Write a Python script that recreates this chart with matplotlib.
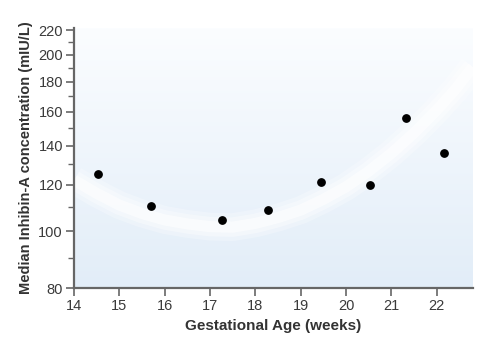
import numpy as np
import matplotlib
matplotlib.use("Agg")
import matplotlib.pyplot as plt
from matplotlib.ticker import FixedLocator, NullFormatter

# median inhibin-A by gestational week
weeks = [14.53, 15.70, 17.27, 18.28, 19.46, 20.54, 21.33, 22.17]
median_inhibin = [125, 110.6, 104.5, 108.7, 121.4, 120, 156, 135.8]

# white trend band
curve_weeks = [14.0, 14.5, 15.0, 15.5, 16.0, 16.5, 17.0, 17.5, 18.0, 18.5, 19.0,
               19.5, 20.0, 20.5, 21.0, 21.5, 22.0, 22.4, 22.8]
curve_values = [122.2, 116.0, 110.8, 107.2, 104.5, 102.9, 101.8, 101.6, 103.1, 105.5, 108.6,
                113.3, 119.0, 126.5, 135.7, 147.0, 160.8, 174.0, 190.6]

x_ticks = [14, 15, 16, 17, 18, 19, 20, 21, 22]
y_ticks = [80, 100, 120, 140, 160, 180, 200, 220]
y_minor = [90, 110, 130, 150, 170, 190, 210]

plt.rcParams['font.family'] = ['Liberation Sans Narrow', 'Liberation Sans', 'DejaVu Sans']

fig = plt.figure(figsize=(4.81, 3.47), dpi=100)
ax = fig.add_axes([0.154, 0.170, 0.829, 0.749])

# very pale blue background, almost white at the top
grad = np.linspace(0, 1, 256).reshape(-1, 1)
ax.imshow(grad, extent=[0, 1, 0, 1], transform=ax.transAxes, aspect='auto',
          cmap=matplotlib.colors.LinearSegmentedColormap.from_list('bg', ['#e2edf8', '#fbfdff']),
          origin='lower', zorder=0)

# soft white band
for lw, a in [(20, 0.25), (14, 0.35), (8, 0.55)]:
    ax.plot(curve_weeks, curve_values, color='white', lw=lw, alpha=a,
            solid_capstyle='butt', zorder=1)
ax.scatter(weeks, median_inhibin, s=28, color='black', zorder=3)

ax.set_yscale('log')
ax.set_xlim(14, 22.8)
ax.set_ylim(80, 222)
ax.yaxis.set_major_locator(FixedLocator(y_ticks))
ax.yaxis.set_minor_locator(FixedLocator(y_minor))
ax.yaxis.set_minor_formatter(NullFormatter())
ax.set_yticklabels([str(v) for v in y_ticks])
ax.set_xticks(x_ticks)

for s in ['top', 'right']:
    ax.spines[s].set_visible(False)
for s in ['left', 'bottom']:
    ax.spines[s].set_color('#666666')
    ax.spines[s].set_linewidth(1.6)

ax.tick_params(axis='both', which='major', length=6, width=1.2, color='#666666',
               labelsize=10.5, labelcolor='#3a3a3a', pad=2)
ax.tick_params(axis='y', which='minor', length=4, width=1.0, color='#666666')

ax.set_xlabel('Gestational Age (weeks)', fontsize=11, fontweight='bold', color='#333333', labelpad=4)
ax.set_ylabel('Median Inhibin-A concentration (mIU/L)', fontsize=10.5, fontweight='bold',
              color='#333333', labelpad=4)

fig.savefig('out.png', dpi=100)
